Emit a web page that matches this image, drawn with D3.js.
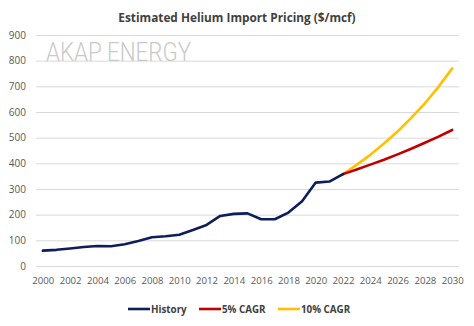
<!DOCTYPE html>
<html>
<head>
<meta charset="utf-8">
<script src="https://cdn.jsdelivr.net/npm/d3@7"></script>
<style>
  body { margin: 0; background: #fff; }
  svg text { font-family: "Open Sans", "Noto Sans", sans-serif; }
</style>
</head>
<body>
<div id="chart"></div>
<script>
// yearly helium import price, $/mcf
var years = d3.range(2000, 2031);
var historyYears = d3.range(2000, 2023);
var historyValues = [60, 63, 68, 74, 78, 77, 85, 97, 112, 116, 122, 140, 160, 195, 203, 205, 182, 182, 208, 252, 325, 329, 358];
var forecastYears = d3.range(2022, 2031);
var cagr5Values = [358, 376, 395, 414, 435, 457, 480, 504, 530];
var cagr10Values = [358, 394, 433, 477, 524, 577, 634, 698, 770];
var yTicks = [0, 100, 200, 300, 400, 500, 600, 700, 800, 900];
var xTickLabels = d3.range(2000, 2031, 2);

var svgWidth = 474;
var svgHeight = 326;

var svg = d3.select("#chart")
  .append("svg")
  .attr("width", svgWidth)
  .attr("height", svgHeight);

var x = d3.scalePoint()
  .domain(years)
  .range([36, 459])
  .padding(0.5);

var y = d3.scaleLinear()
  .domain([0, 900])
  .range([266, 35]);

// gridlines + y labels
var yAxis = d3.axisLeft(y)
  .tickValues(yTicks)
  .tickSize(-(459 - 36))
  .tickPadding(10);

svg.append("g")
  .attr("transform", "translate(36,0)")
  .call(yAxis)
  .call(g => g.select(".domain").remove())
  .call(g => g.selectAll(".tick line").attr("stroke", "#d9d9d9").attr("stroke-width", 1))
  .call(g => g.selectAll(".tick text").attr("fill", "#595959").attr("font-size", "10px"));

// x labels
var xAxis = d3.axisBottom(x)
  .tickValues(xTickLabels)
  .tickSize(0)
  .tickPadding(11);

svg.append("g")
  .attr("transform", "translate(0,266)")
  .call(xAxis)
  .call(g => g.select(".domain").remove())
  .call(g => g.selectAll(".tick text").attr("fill", "#595959").attr("font-size", "9.6px"));

// watermark
svg.append("text")
  .attr("x", 46)
  .attr("y", 61)
  .attr("font-size", "26px")
  .attr("font-weight", 300)
  .attr("fill", "#c9c9c9")
  .attr("textLength", 145)
  .attr("lengthAdjust", "spacingAndGlyphs")
  .style("font-family", "Roboto, sans-serif")
  .text("AKAP ENERGY");

// title
svg.append("text")
  .attr("x", 237)
  .attr("y", 22)
  .attr("text-anchor", "middle")
  .attr("font-size", "11.8px")
  .attr("font-weight", 700)
  .attr("fill", "#404040")
  .text("Estimated Helium Import Pricing ($/mcf)");

var line = d3.line()
  .x(d => x(d[0]))
  .y(d => y(d[1]));

var series = [
  { name: "History", color: "#0e1d5c", years: historyYears, values: historyValues },
  { name: "5% CAGR", color: "#c00000", years: forecastYears, values: cagr5Values },
  { name: "10% CAGR", color: "#ffc000", years: forecastYears, values: cagr10Values }
];

// draw forecasts first so history sits on top at the join
series.slice().reverse().forEach(function(s) {
  svg.append("path")
    .datum(d3.zip(s.years, s.values))
    .attr("fill", "none")
    .attr("stroke", s.color)
    .attr("stroke-width", 2.6)
    .attr("stroke-linejoin", "round")
    .attr("stroke-linecap", "round")
    .attr("d", line);
});

// legend
var legendPos = [128, 199, 278];
var legend = svg.append("g").attr("transform", "translate(0,309)");
series.forEach(function(s, i) {
  var lx = legendPos[i];
  legend.append("line")
    .attr("x1", lx).attr("x2", lx + 22)
    .attr("y1", 0).attr("y2", 0)
    .attr("stroke", s.color)
    .attr("stroke-width", 2.6);
  legend.append("text")
    .attr("x", lx + 23)
    .attr("y", 3.5)
    .attr("font-size", "9.8px")
    .attr("font-weight", 700)
    .attr("fill", "#404040")
    .text(s.name);
});
</script>
</body>
</html>
